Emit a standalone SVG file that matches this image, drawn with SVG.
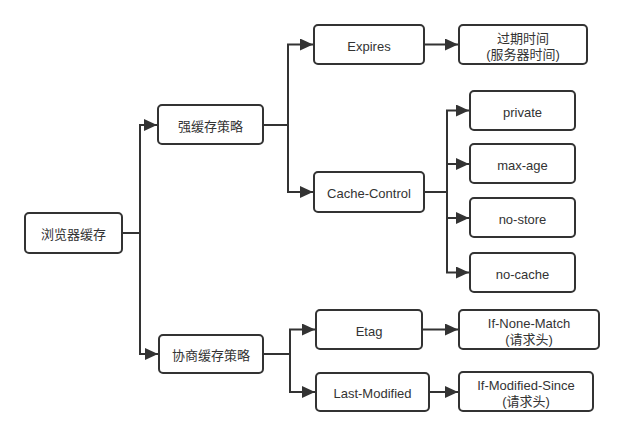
<svg xmlns="http://www.w3.org/2000/svg" width="625" height="436" viewBox="0 0 625 436">
<style>
.box{fill:#fff;stroke:#333;stroke-width:2}
.t{font-family:"Liberation Sans","Noto Sans CJK SC",sans-serif;font-size:13px;fill:#333;text-anchor:middle;dominant-baseline:central}
.c{fill:none;stroke:#333;stroke-width:2}
</style>
<defs>
<marker id="a" markerUnits="userSpaceOnUse" markerWidth="14" markerHeight="12" refX="13" refY="6" orient="auto">
<path d="M0,0 L13,6 L0,12 Z" fill="#333"/>
</marker>
</defs>
<rect width="625" height="436" fill="#fff"/>
<g id="connectors">
<path class="c" d="M122,233 H140 V125 H157" marker-end="url(#a)"/>
<path class="c" d="M140,233 V354 H158" marker-end="url(#a)"/>
<path class="c" d="M263,125 H288 V44.5 H313" marker-end="url(#a)"/>
<path class="c" d="M288,125 V192 H313" marker-end="url(#a)"/>
<path class="c" d="M424,44.5 H458" marker-end="url(#a)"/>
<path class="c" d="M424,192 H447 V110.5 H469" marker-end="url(#a)"/>
<path class="c" d="M447,164 H469" marker-end="url(#a)"/>
<path class="c" d="M447,192 V218 H469" marker-end="url(#a)"/>
<path class="c" d="M447,218 V272.5 H469" marker-end="url(#a)"/>
<path class="c" d="M263,354 H290 V329.5 H315" marker-end="url(#a)"/>
<path class="c" d="M290,354 V392 H315" marker-end="url(#a)"/>
<path class="c" d="M422,329.5 H458" marker-end="url(#a)"/>
<path class="c" d="M429,392 H458" marker-end="url(#a)"/>
</g>
<g id="browser"><rect class="box" x="25" y="213" width="97" height="40" rx="4"/><text class="t" x="73.5" y="234.5">浏览器缓存</text></g>
<g id="strong"><rect class="box" x="158" y="105" width="105" height="39" rx="4"/><text class="t" x="210.5" y="126">强缓存策略</text></g>
<g id="negotiate"><rect class="box" x="159" y="335" width="104" height="38" rx="4"/><text class="t" x="211" y="355.5">协商缓存策略</text></g>
<g id="expires"><rect class="box" x="314" y="25" width="110" height="39" rx="4"/><text class="t" x="369" y="46">Expires</text></g>
<g id="expiretime"><rect class="box" x="459" y="25" width="128" height="39" rx="4"/><text class="t" x="523" y="38">过期时间</text><text class="t" x="523" y="54">(服务器时间)</text></g>
<g id="cachecontrol"><rect class="box" x="314" y="172" width="110" height="40" rx="4"/><text class="t" x="369" y="193.5">Cache-Control</text></g>
<g id="private"><rect class="box" x="470" y="91" width="105" height="39" rx="4"/><text class="t" x="522.5" y="112">private</text></g>
<g id="maxage"><rect class="box" x="470" y="144" width="105" height="39" rx="4"/><text class="t" x="522.5" y="165">max-age</text></g>
<g id="nostore"><rect class="box" x="470" y="198" width="105" height="39" rx="4"/><text class="t" x="522.5" y="219">no-store</text></g>
<g id="nocache"><rect class="box" x="470" y="253" width="105" height="39" rx="4"/><text class="t" x="522.5" y="274">no-cache</text></g>
<g id="etag"><rect class="box" x="316" y="310" width="106" height="39" rx="4"/><text class="t" x="369" y="331">Etag</text></g>
<g id="lastmod"><rect class="box" x="316" y="373" width="113" height="38" rx="4"/><text class="t" x="372.5" y="393.5">Last-Modified</text></g>
<g id="ifnone"><rect class="box" x="459" y="310" width="140" height="39" rx="4"/><text class="t" x="529" y="323">If-None-Match</text><text class="t" x="529" y="339">(请求头)</text></g>
<g id="ifmod"><rect class="box" x="459" y="372" width="134" height="39" rx="4"/><text class="t" x="526" y="385">If-Modified-Since</text><text class="t" x="526" y="401">(请求头)</text></g>
</svg>
